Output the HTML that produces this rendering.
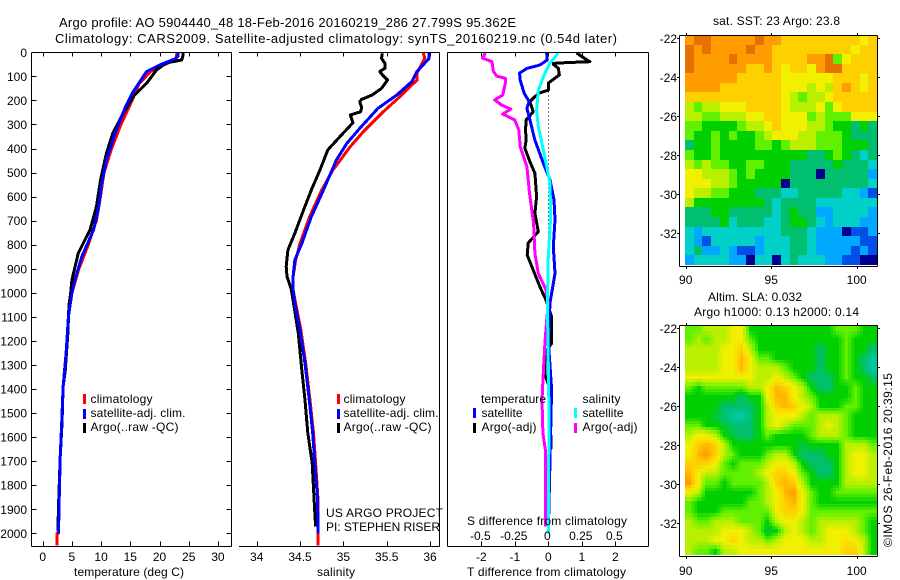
<!DOCTYPE html>
<html>
<head>
<meta charset="utf-8">
<title>Argo profile</title>
<style>
html,body{margin:0;padding:0;background:#fff;}
svg{display:block;}
text{font-family:"Liberation Sans",sans-serif;font-size:12px;fill:#000;}
</style>
</head>
<body>
<svg id="fig" xmlns="http://www.w3.org/2000/svg" width="900" height="580" viewBox="0 0 900 580">
  <g id="maps"></g>
  <g id="series"></g>
  <g id="axes"></g>

  <text x="59" y="27" textLength="457" lengthAdjust="spacing" style="font-size:13px">Argo profile: AO 5904440_48 18-Feb-2016 20160219_286 27.799S 95.362E</text>
  <text x="55" y="43" textLength="562" lengthAdjust="spacing" style="font-size:13px">Climatology: CARS2009. Satellite-adjusted climatology: synTS_20160219.nc (0.54d later)</text>

  <text x="74" y="576" textLength="110" lengthAdjust="spacing">temperature (deg C)</text>
  <text x="317" y="576" textLength="38" lengthAdjust="spacing">salinity</text>
  <text x="467" y="576" textLength="159" lengthAdjust="spacing">T difference from climatology</text>
  <text x="467" y="525" textLength="160" lengthAdjust="spacing">S difference from climatology</text>

  <g>
    <rect x="83" y="394" width="3" height="10" fill="#f00"/>
    <rect x="83" y="409" width="3" height="10" fill="#00f"/>
    <rect x="83" y="423" width="3" height="10" fill="#000"/>
    <text x="90.500" y="403" textLength="62" lengthAdjust="spacing">climatology</text>
    <text x="90.500" y="417" textLength="95" lengthAdjust="spacing">satellite-adj. clim.</text>
    <text x="90.500" y="431" textLength="88" lengthAdjust="spacing">Argo(..raw -QC)</text>
  </g>
  <g>
    <rect x="337" y="394" width="3" height="10" fill="#f00"/>
    <rect x="337" y="409" width="3" height="10" fill="#00f"/>
    <rect x="337" y="423" width="3" height="10" fill="#000"/>
    <text x="343.500" y="403" textLength="62" lengthAdjust="spacing">climatology</text>
    <text x="343.500" y="417" textLength="95" lengthAdjust="spacing">satellite-adj. clim.</text>
    <text x="343.500" y="431" textLength="88" lengthAdjust="spacing">Argo(..raw -QC)</text>
  </g>
  <g>
    <text x="481" y="403" textLength="65" lengthAdjust="spacing">temperature</text>
    <rect x="473" y="408" width="3" height="10" fill="#00f"/>
    <rect x="473" y="423" width="3" height="10" fill="#000"/>
    <text x="481.500" y="417" textLength="41" lengthAdjust="spacing">satellite</text>
    <text x="481.500" y="431" textLength="55" lengthAdjust="spacing">Argo(-adj)</text>
    <text x="582.500" y="403" textLength="38" lengthAdjust="spacing">salinity</text>
    <rect x="574" y="408" width="3" height="10" fill="#0ff"/>
    <rect x="574" y="423" width="3" height="10" fill="#f0f"/>
    <text x="582.500" y="417" textLength="41" lengthAdjust="spacing">satellite</text>
    <text x="582.500" y="431" textLength="55" lengthAdjust="spacing">Argo(-adj)</text>
  </g>

  <text x="326" y="517" textLength="117" lengthAdjust="spacing">US ARGO PROJECT</text>
  <text x="326" y="531" textLength="114" lengthAdjust="spacing">PI: STEPHEN RISER</text>

  <text x="713" y="25" textLength="127" lengthAdjust="spacing">sat. SST: 23 Argo: 23.8</text>
  <text x="708" y="301" textLength="94" lengthAdjust="spacing">Altim. SLA: 0.032</text>
  <text x="694" y="316" textLength="165" lengthAdjust="spacing">Argo h1000: 0.13 h2000: 0.14</text>
  <text transform="translate(892,547) rotate(-90)" textLength="174" lengthAdjust="spacing">©IMOS 26-Feb-2016 20:39:15</text>
</svg>

<script>
// ---------- tick labels ----------
const depthTicks = [0,100,200,300,400,500,600,700,800,900,1000,1100,1200,1300,1400,1500,1600,1700,1800,1900,2000];
const tempTicks = [0,5,10,15,20,25,30];
const salTicks = [34,34.5,35,35.5,36];
const salTickLabels = ['34','34.5','35','35.5','36'];
const tDiffTicks = [-2,-1,0,1,2];
const sDiffTicks = [-0.5,-0.25,0,0.25,0.5];
const sDiffTickLabels = ['-0.5','-0.25','0','0.25','0.5'];
const latTicks = [22,24,26,28,30,32];
const lonTicks = [90,95,100];

// ---------- temperature profiles ----------
const tempArgoDepth = [0,15,32,44,73,128,184,253,337,420,532,642,739,835,947,1000,1050,1173,1325,1391,1543,1683,1888,1990];
const tempArgoValue = [24.0,24.0,23.8,21.2,19.5,17.8,15.5,13.8,12.0,10.9,9.9,9.2,8.1,6.1,5.0,4.8,4.5,4.3,3.85,3.5,3.3,3.0,2.7,2.6];
const tempClimDepth = [0,30,50,80,130,200,300,400,500,600,700,800,900,1000,1100,1251,1391,1543,1683,1875,2000,2001,2050];
const tempClimValue = [23.0,22.8,21.0,18.5,16.5,15.3,13.4,11.8,10.5,9.9,9.2,7.8,6.2,5.0,4.4,4.0,3.5,3.25,3.0,2.8,2.7,2.45,2.45];
const tempSatDepth = [0,15,28,52,80,164,232,337,448,559,642,739,850,947,1000,1100,1251,1391,1543,1683,1875,2000];
const tempSatValue = [23.2,23.2,22.6,20.1,17.8,15.5,14.1,12.4,10.9,10.0,9.6,8.7,6.7,5.5,5.0,4.4,4.0,3.5,3.25,3.0,2.8,2.7];

// ---------- salinity profiles ----------
const salArgoDepth = [4,25,46,66,80,94,115,150,178,196,205,229,247,261,293,351,406,489,573,656,753,822,891,933,988,1168,1321,1446,1583,1708,1875,1972];
const salArgoValue = [35.45,35.44,35.48,35.48,35.42,35.45,35.51,35.44,35.33,35.21,35.19,35.21,35.2,35.08,35.11,34.96,34.82,34.73,34.63,34.54,34.44,34.36,34.34,34.35,34.4,34.48,34.52,34.557,34.59,34.64,34.665,34.68];
const salClimDepth = [0,25,87,115,185,254,330,392,489,573,684,795,864,933,988,1044,1155,1293,1446,1583,1708,1847,2000,2050];
const salClimValue = [35.92,35.94,35.85,35.85,35.65,35.44,35.23,35.08,34.88,34.75,34.61,34.5,34.45,34.42,34.42,34.45,34.51,34.565,34.615,34.655,34.68,34.705,34.71,34.71];
const salSatDepth = [0,25,80,122,178,233,316,379,448,573,684,795,864,933,988,1044,1155,1293,1446,1583,1708,1847,2000];
const salSatValue = [35.99,35.99,35.85,35.79,35.615,35.40,35.19,35.04,34.92,34.77,34.63,34.52,34.44,34.42,34.42,34.44,34.5,34.557,34.607,34.646,34.67,34.70,34.71];

// ---------- difference profiles ----------
const tDiffArgoDepth = [3,18,39,43,46,50,66,94,128,157,171,205,247,281,323,365,398,455,503,600,669,746,793,843,905,975,1030,1100,1210,1250,1340,1400,1650];
const tDiffArgoValue = [0.85,1.0,1.24,0.55,0.15,0.15,0.3,0.33,0,0,-0.3,-0.55,-0.45,-0.66,-0.68,-0.66,-0.7,-0.55,-0.4,-0.35,-0.4,-0.3,-0.6,-0.63,-0.45,-0.25,-0.07,0.1,0.1,-0.1,-0.1,0.05,0.08];
const tDiffSatDepth = [3,32,53,67,87,115,171,205,233,281,365,461,531,614,697,808,919,1043,1200,1400,1700,2000];
const tDiffSatValue = [-0.05,-0.03,-0.25,-0.64,-0.86,-0.84,-0.72,-0.57,-0.64,-0.55,-0.4,-0.15,0.05,0.17,0.2,0.15,0.2,0.05,0,0.1,0.05,0];
const sDiffArgoDepth = [3,24,39,80,99,108,128,178,198,219,236,257,281,323,392,475,586,711,836,919,988,1043,1113,1210,1335,1446,1583,1654,1972];
const sDiffArgoValue = [-0.47,-0.49,-0.42,-0.41,-0.385,-0.32,-0.32,-0.34,-0.4,-0.35,-0.28,-0.34,-0.25,-0.22,-0.21,-0.16,-0.14,-0.11,-0.1,-0.075,-0.017,0,-0.012,-0.025,-0.037,-0.047,-0.04,-0.022,-0.022];
const sDiffSatDepth = [3,44,87,157,240,309,406,544,683,850,1043,1500,2000];
const sDiffSatValue = [0.075,0.013,-0.025,-0.075,-0.087,-0.075,-0.037,0.013,0.018,0,-0.007,0.005,0];

// ---------- map cell values (colour level, rows north to south, columns west to east) ----------
const sstLevels = [
[10,11,11,10,10,10,10,10,11,10,10,9,9,9,9,9,9,9,9,9,8,9],
[11,10,11,10,10,10,10,11,10,10,9,9,9,9,9,9,9,9,9,8,9,9],
[11,10,10,10,10,11,10,10,10,10,9,9,9,9,10,10,11,6,8,9,9,9],
[11,10,10,10,10,10,10,9,9,10,9,8,9,9,8,10,11,11,9,9,9,9],
[10,10,10,10,10,10,9,9,9,9,9,8,8,8,8,8,8,9,9,9,8,9],
[10,10,10,10,9,9,9,9,9,9,9,8,8,8,7,8,7,9,10,9,8,9],
[9,9,9,9,9,9,9,9,9,9,9,8,7,6,7,7,8,9,9,9,9,9],
[7,6,7,7,8,8,8,9,9,9,9,8,7,7,7,8,6,8,9,9,9,9],
[7,7,6,6,7,7,7,8,8,9,9,8,8,8,6,7,6,6,6,8,8,8],
[6,6,5,5,5,5,6,7,7,8,9,8,8,8,7,7,6,5,5,4,5,4],
[6,5,5,6,5,6,5,5,6,7,8,8,8,7,7,6,6,6,5,4,4,4],
[4,5,5,6,5,5,5,5,6,6,5,6,7,7,7,6,6,6,5,5,5,4],
[6,5,5,6,5,5,5,5,5,5,5,5,5,5,4,4,5,6,5,4,3,4],
[7,6,7,6,6,5,5,6,6,5,5,5,4,4,4,4,4,5,4,4,4,3],
[8,8,7,7,7,6,5,6,5,5,5,5,4,4,4,0,4,4,4,4,4,2],
[8,8,8,7,7,6,5,5,5,5,5,0,4,4,4,4,4,4,4,4,4,3],
[8,7,7,6,6,5,5,5,4,4,4,3,3,4,4,4,4,4,3,3,2,1],
[7,5,5,5,5,5,5,5,5,4,3,4,4,4,4,3,3,3,3,3,3,3],
[4,4,4,5,5,4,4,4,4,4,3,4,5,4,4,2,2,3,3,3,3,2],
[4,4,4,4,5,3,4,4,4,3,3,4,5,5,4,3,2,3,3,3,2,2],
[3,2,3,3,3,3,3,3,3,3,3,4,4,4,3,2,2,2,0,1,1,2],
[3,2,1,3,3,3,3,3,2,3,3,3,4,4,3,2,2,2,2,2,1,1],
[3,4,2,2,3,2,1,1,2,3,3,3,4,4,3,2,2,2,2,1,2,1],
[2,3,3,3,3,2,2,0,3,3,0,3,4,3,3,3,2,2,1,1,0,0]
];
const slaLevels = [
[6,6,7,7,7,8,8,5,5,5,5,5,5,5,5,5,5,6,6,6,5,5],
[6,7,6,7,7,8,8,6,5,5,5,5,5,5,5,5,5,5,6,5,5,5],
[7,7,7,7,8,8,9,7,5,5,5,5,5,5,5,4,5,5,6,5,5,4],
[7,7,7,7,8,8,9.5,8,6,6,5,5,5,5,5,4,5,5,6,5,4,3.5],
[7,7,7,7,8,8,9.5,8,7,7,7,6,5,5,5,4,5,5,6,5,4,3.5],
[8,8,8,8,8,8,8,8,7,7,8,7,6,5,4,4,4,5,6,5,5,4],
[6,5,6,6,6,6,6,7,7,8,9.5,9,8,7,5,4,4,5,5,6,5,5],
[5,5,5,5,5,5,4,5,5,8,9.5,9.5,8,7,6,5,5,5,5,6,5,5],
[5,5,5,5,4,4,4,4,5,7,9,9.5,9,8,7,5,5,5,6,6,5,5],
[5,5,5,4.5,4,3.5,3.3,4,5,7,8,8,8,7,6,7,7,7,6,5,5,5],
[6,6,5,5,4.5,4,4,4,5,7,8,7,6,6,6,7,8,7,6,5,5,5],
[7,8,8,7,5,4.5,4,4,5,6,5,5,5,5,6,7,7,7,6,5,5,5],
[8,9,9.5,9,7,5,5,5,5,5,5,5,5,4.5,5,5,5,5,7,7,7,6],
[8,9.5,10,9,7,6,5,5,5,6,7,7,5,4,4,4,5,5,7,8,8,7],
[9,9,9,8,6,5,6,6,6,7,8,8,7,5,4,4,4,5,7,8,8,7],
[9.5,8,7,7,6,6,6,6,7,8,9,9,8,6,5,4,4,5,7,8,8,7],
[10,8,6,6,5,6,6,6,6,7,9,9.5,9,7,5,5,5,5,7,7,7,7],
[8,7,5,5,5,5,5,5,6,7,8,9.5,10,8,6,5,5,6,6,6,6,6],
[6,5,5,5,5,5,5,6,6,7,8,9,9.5,8,6,5,5,5,5,5,5,5],
[6,5,5,5,6,6,6,6,6,6,8,9,9,8,6,6,6,6,6,6,6,6],
[7,6,6,7,7,7,6,6,6,5,7,8,8,7,6,7,7,7,7,7,6,5],
[7,7,7,7,8,8,8,7,6,4.5,5,7,8,7,6,7,8,8,8,7,6,5],
[7,7,7,8,8,9,8,7,7,6,7,8,8,8,7,7,8,8,8.5,8,7,5],
[7,6,6,5,7,7,8,8,8,8,8,8,8,8,8,8,8,8,9,9,7,5]
];
const colourRamp = [[0,0,144],[0,80,232],[0,168,255],[0,208,200],[0,192,112],[0,208,0],[96,240,0],[184,240,0],[240,240,0],[255,208,0],[255,156,0],[232,112,0]];

// ---------- axis functions ----------
function yDepth(d){return 52.3+0.2405*d;}
function xTemp(v){return 42.7+5.84*v;}
function xSal(v){return 256.7+86.67*(v-34);}
function xTDiff(v){return 548.3+33.5*v;}
function xSDiff(v){return 548.3+134*v;}
function xLon(v){return 685.7+17.1*(v-90);}
function ySst(v){return 38.3+19.5*(v-22);}
function ySla(v){return 328.3+19.5*(v-22);}

const NS='http://www.w3.org/2000/svg';
function mk(tag,parent,attrs){
  const e=document.createElementNS(NS,tag);
  for(const k in attrs){e.setAttribute(k,attrs[k]);}
  parent.appendChild(e);
  return e;
}
function levelColour(v){
  const lo=Math.max(0,Math.min(colourRamp.length-1,Math.floor(v)));
  const hi=Math.min(colourRamp.length-1,lo+1);
  const f=Math.max(0,Math.min(1,v-lo));
  const c=[0,1,2].map(i=>Math.round(colourRamp[lo][i]+(colourRamp[hi][i]-colourRamp[lo][i])*f));
  return 'rgb('+c.join(',')+')';
}
const axesG=document.getElementById('axes');
const seriesG=document.getElementById('series');
const mapsG=document.getElementById('maps');

function axisLine(x1,y1,x2,y2,name){
  const l=mk('line',axesG,{x1:x1,y1:y1,x2:x2,y2:y2,stroke:'#000','stroke-width':1,'shape-rendering':'crispEdges'});
  
  
  return l;
}
function label(x,y,str,anchor,name){
  const t=mk('text',axesG,{x:x,y:y,'text-anchor':anchor});
  t.textContent=str;
  
  
  return t;
}
function profile(depths,values,xFn,colour,width,name){
  const pts=depths.map((d,i)=>xFn(values[i]).toFixed(1)+','+yDepth(d).toFixed(1)).join(' ');
  const p=mk('polyline',seriesG,{points:pts,fill:'none',stroke:colour,'stroke-width':width,'stroke-linejoin':'round','shape-rendering':'crispEdges'});
  
  
  return p;
}
const lonMin=89.96,lonMax=101.19,latMin=21.83,latMax=33.62;
// sub = pixels of display resolution per data cell; sub>1 shades between cell centres
function heatmap(levels,yFn,name,sub){
  const nr=levels.length,nc=levels[0].length;
  function sample(ru,cu){
    const r=Math.max(0,Math.min(nr-1,ru-0.5)),c=Math.max(0,Math.min(nc-1,cu-0.5));
    const r0=Math.floor(r),c0=Math.floor(c),r1=Math.min(nr-1,r0+1),c1=Math.min(nc-1,c0+1);
    const fr=r-r0,fc=c-c0;
    return (levels[r0][c0]*(1-fc)+levels[r0][c1]*fc)*(1-fr)+(levels[r1][c0]*(1-fc)+levels[r1][c1]*fc)*fr;
  }
  for(let r=0;r<nr*sub;r++){
    for(let c=0;c<nc*sub;c++){
      const x0=Math.round(xLon(lonMin+(lonMax-lonMin)*c/(nc*sub)));
      const x1=Math.round(xLon(lonMin+(lonMax-lonMin)*(c+1)/(nc*sub)));
      const y0=Math.round(yFn(latMin+(latMax-latMin)*r/(nr*sub)));
      const y1=Math.round(yFn(latMin+(latMax-latMin)*(r+1)/(nr*sub)));
      const v=sub>1?sample((r+0.5)/sub,(c+0.5)/sub):levels[r][c];
      const cell=mk('rect',mapsG,{x:x0,y:y0,width:x1-x0,height:y1-y0,fill:levelColour(v),'shape-rendering':'crispEdges'});
      
      
    }
  }
}

// ---------- maps ----------
heatmap(sstLevels,ySst,'sst-map-cell',1);
heatmap(slaLevels,ySla,'sla-map-cell',3);

// ---------- reference line ----------
const zeroLine=mk('line',seriesG,{x1:xTDiff(0),x2:xTDiff(0),y1:yDepth(130),y2:yDepth(1100),stroke:'#000','stroke-width':1,'stroke-dasharray':'1 3','shape-rendering':'crispEdges'});



// ---------- series ----------
profile(tempClimDepth,tempClimValue,xTemp,'#f00',3,'temperature-climatology-line');
profile(tempArgoDepth,tempArgoValue,xTemp,'#000',3,'temperature-argo-line');
profile(tempSatDepth,tempSatValue,xTemp,'#00f',3,'temperature-satellite-line');
profile(salClimDepth,salClimValue,xSal,'#f00',3,'salinity-climatology-line');
profile(salArgoDepth,salArgoValue,xSal,'#000',3,'salinity-argo-line');
profile(salSatDepth,salSatValue,xSal,'#00f',3,'salinity-satellite-line');
profile(tDiffArgoDepth,tDiffArgoValue,xTDiff,'#000',3,'t-difference-argo-line');
profile(tDiffSatDepth,tDiffSatValue,xTDiff,'#00f',3,'t-difference-satellite-line');
profile(sDiffArgoDepth,sDiffArgoValue,xSDiff,'#f0f',3,'s-difference-argo-line');
profile(sDiffSatDepth,sDiffSatValue,xSDiff,'#0ff',3,'s-difference-satellite-line');

// ---------- profile panel frames ----------
const frameTop=52.5,frameBot=546.5;
axisLine(31.5,frameTop,31.5,frameBot,'temperature-panel-left-axis');
axisLine(31.5,frameTop,231.5,frameTop,'temperature-panel-top-axis');
axisLine(31.5,frameBot,231.5,frameBot,'temperature-panel-bottom-axis');
axisLine(231.5,frameTop,231.5,frameBot,'temperature-panel-right-axis');
axisLine(239,frameTop,439.5,frameTop,'salinity-panel-top-axis');
axisLine(239,frameBot,439.5,frameBot,'salinity-panel-bottom-axis');
axisLine(439.5,frameTop,439.5,frameBot,'salinity-panel-right-axis');
axisLine(447.5,frameTop,648.5,frameTop,'difference-panel-top-axis');
axisLine(447.5,frameBot,648.5,frameBot,'difference-panel-bottom-axis');
axisLine(447.5,frameTop,447.5,frameBot,'difference-panel-left-axis');
axisLine(648.5,frameTop,648.5,frameBot,'difference-panel-right-axis');

depthTicks.forEach(d=>{
  const y=Math.round(yDepth(d))+0.5;
  axisLine(31.5,y,36.5,y,'depth-tick-left');
  axisLine(226.5,y,231.5,y,'depth-tick-right');
  label(27,yDepth(d)+4.5,String(d),'end','depth-tick-label');
});
tempTicks.forEach(v=>{
  const x=Math.round(xTemp(v))+0.5;
  axisLine(x,frameTop,x,frameTop+4,'temperature-tick-top');
  axisLine(x,frameBot-5,x,frameBot,'temperature-tick-bottom');
  label(xTemp(v),561,String(v),'middle','temperature-tick-label');
});
salTicks.forEach((v,i)=>{
  const x=Math.round(xSal(v))+0.5;
  axisLine(x,frameTop,x,frameTop+4,'salinity-tick-top');
  axisLine(x,frameBot-5,x,frameBot,'salinity-tick-bottom');
  label(xSal(v),561,salTickLabels[i],'middle','salinity-tick-label');
});
tDiffTicks.forEach(v=>{
  const x=Math.round(xTDiff(v))+0.5;
  axisLine(x,frameBot-5,x,frameBot,'t-difference-tick');
  label(xTDiff(v),561,String(v),'middle','t-difference-tick-label');
});
sDiffTicks.forEach((v,i)=>{
  const x=Math.round(xSDiff(v))+0.5;
  axisLine(x,frameTop,x,frameTop+4,'s-difference-tick');
  label(xSDiff(v)-1,540,sDiffTickLabels[i],'middle','s-difference-tick-label');
});

// ---------- map frames ----------
function mapFrame(yFn,topY,botY,labelY,prefix){
  axisLine(679.5,topY,877.5,topY,prefix+'-map-top-axis');
  axisLine(679.5,botY,877.5,botY,prefix+'-map-bottom-axis');
  axisLine(679.5,topY,679.5,botY,prefix+'-map-left-axis');
  axisLine(877.5,topY,877.5,botY,prefix+'-map-right-axis');
  latTicks.forEach(v=>{
    const y=Math.round(yFn(v))+0.5;
    axisLine(677,y,679.5,y,prefix+'-lat-tick-left');
    axisLine(877.5,y,880,y,prefix+'-lat-tick-right');
    label(677,yFn(v)+4.5,'-'+v,'end',prefix+'-lat-tick-label');
  });
  lonTicks.forEach(v=>{
    const x=Math.round(xLon(v))+0.5;
    axisLine(x,topY-2.5,x,topY,prefix+'-lon-tick-top');
    axisLine(x,botY,x,botY+2.5,prefix+'-lon-tick-bottom');
    label(xLon(v),labelY,String(v),'middle',prefix+'-lon-tick-label');
  });
}
mapFrame(ySst,35.5,266.5,284,'sst');
mapFrame(ySla,325.5,556.5,575,'sla');
</script>
</body>
</html>
